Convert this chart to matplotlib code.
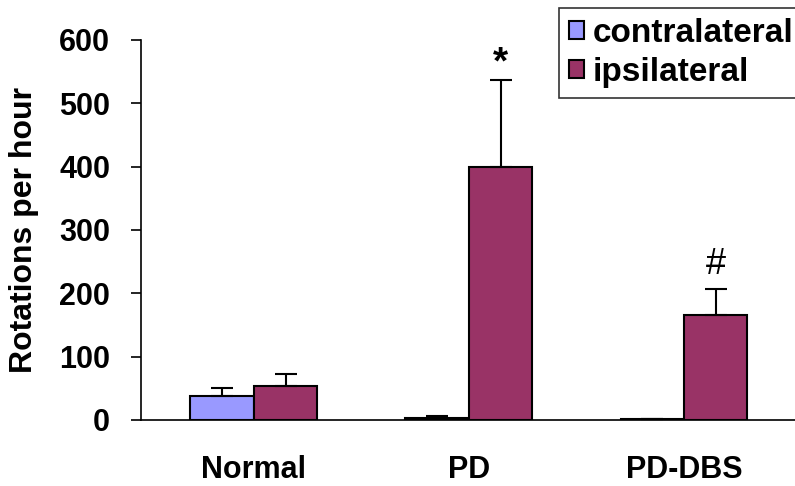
import matplotlib
matplotlib.use("Agg")
import numpy as np
import matplotlib.pyplot as plt

groups = ["Normal", "PD", "PD-DBS"]
contra = [38, 3, 1]
contra_err = [12, 3, 0]
ipsi = [54, 400, 166]
ipsi_err = [19, 137, 41]
marks = ["", "*", "#"]

plt.rcParams["font.family"] = ["Liberation Sans", "DejaVu Sans"]

fig = plt.figure(figsize=(7.95, 4.86), dpi=100)
ax = fig.add_axes([0.177, 0.136, 0.823, 0.782])

x = np.arange(len(groups))
w = 0.295
ekw = dict(elinewidth=1.5, capthick=1.5, capsize=8)
ax.bar(x - w / 2, contra, w, color="#9999FF", edgecolor="black", linewidth=1.5,
       label="contralateral")
ax.errorbar(x - w / 2, contra, yerr=[np.zeros(3), contra_err], fmt="none",
            ecolor="black", **ekw)
ax.bar(x + w / 2, ipsi, w, color="#993366", edgecolor="black", linewidth=1.5,
       label="ipsilateral")
ax.errorbar(x + w / 2, ipsi, yerr=[np.zeros(3), ipsi_err], fmt="none",
            ecolor="black", **ekw)

ax.text(x[1] + w / 2, ipsi[1] + ipsi_err[1] - 3, marks[1], ha="center", va="bottom",
        fontsize=28, fontweight="bold")
ax.text(x[2] + w / 2, ipsi[2] + ipsi_err[2] + 10, marks[2], ha="center", va="bottom",
        fontsize=26)

ax.set_xlim(-0.526, 2.516)
ax.set_ylim(0, 600)
ax.set_yticks(range(0, 601, 100))
ax.set_xticks(x)
ax.set_xticklabels(groups, fontsize=22, fontweight="bold")
ax.tick_params(axis="x", length=0, pad=25)
ax.tick_params(axis="y", labelsize=22, length=7, width=1.2, direction="out", pad=15)
for lab in ax.get_yticklabels():
    lab.set_fontweight("bold")
ax.spines["top"].set_visible(False)
ax.spines["right"].set_visible(False)
ax.spines["left"].set_linewidth(1.2)
ax.spines["bottom"].set_linewidth(1.2)
ax.set_ylabel("Rotations per hour", fontsize=23, fontweight="bold")
ax.yaxis.set_label_coords(-0.155, 0.5)

leg = fig.legend(loc="upper left", bbox_to_anchor=(559 / 795, 1 - 8 / 486),
                 prop={"weight": "bold", "size": 24}, frameon=True, fancybox=False,
                 handlelength=0.45, handleheight=0.45, handletextpad=0.25,
                 borderpad=0.3, labelspacing=0.25, borderaxespad=0)
leg.get_frame().set_edgecolor("black")
leg.get_frame().set_linewidth(1.2)

fig.savefig("out.png", dpi=100)
